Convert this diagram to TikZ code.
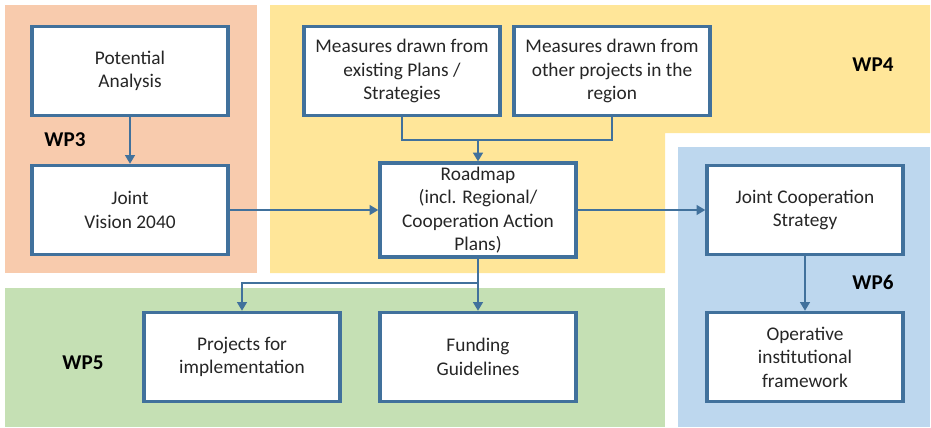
\documentclass[tikz,border=0pt]{standalone}
\usepackage{fontspec}
\setmainfont{Carlito}
\usetikzlibrary{arrows.meta}
\definecolor{edge}{HTML}{41719C}
\definecolor{wpthree}{HTML}{F8CBAD}
\definecolor{wpfour}{HTML}{FFE699}
\definecolor{wpfive}{HTML}{C5E0B4}
\definecolor{wpsix}{HTML}{BDD7EE}
\definecolor{ink}{HTML}{262626}
\begin{document}
\begin{tikzpicture}[x=.02cm,y=-.02cm,
	box/.style={draw=edge,line width=1.9pt,fill=white,text=ink,align=center,minimum width=3.92cm,minimum height=1.78cm,inner sep=2pt,font=\fontsize{11}{13.4}\selectfont},
	wp/.style={text=black,font=\bfseries\fontsize{12}{14}\selectfont},
	flow/.style={edge,line width=1.5pt,-{Triangle[width=5.5pt,length=5pt]}}]
	\useasboundingbox (0,0) rectangle (931,427);
	% work package areas
	\fill[wpthree] (5,5) rectangle (257,273);
	\fill[wpfour] (270,5) -| (930,133) -| (665,273) -- (270,273) -- cycle;
	\fill[wpfive] (5,288) rectangle (665,427);
	\fill[wpsix] (678,147) rectangle (930,427);
	\node[wp] at (65,140) {WP3};
	\node[wp] at (873,65) {WP4};
	\node[wp] at (83,363) {WP5};
	\node[wp] at (873,282) {WP6};
	% boxes
	\node[box] (pot) at (130,71) {Potential\\Analysis};
	\node[box] (vis) at (130,210) {Joint\\Vision 2040};
	\node[box] (msrplan) at (402,71) {Measures drawn from\\existing Plans /\\Strategies};
	\node[box] (msrproj) at (612,71) {Measures drawn from\\other projects in the\\region};
	\node[box] (road) at (478,210) {Roadmap\\(incl. Regional/\\Cooperation Action\\Plans)};
	\node[box] (jcs) at (805,210) {Joint Cooperation\\Strategy};
	\node[box] (proj) at (242,357) {Projects for\\implementation};
	\node[box] (fund) at (478,357) {Funding\\Guidelines};
	\node[box] (oif) at (805,357) {Operative\\institutional\\framework};
	\path (478,140) coordinate (merge) (478,283) coordinate (split);
	% connectors
	\draw[flow] (pot) -- (vis);
	\draw[flow] (vis) -- (road);
	\draw[flow] (road) -- (jcs);
	\draw[flow] (jcs) -- (oif);
	\draw[edge,line width=1.5pt] (msrplan.south) |- (merge) -| (msrproj.south);
	\draw[flow] (merge) -- (road);
	\draw[edge,line width=1.5pt] (road) -- (split);
	\draw[flow] (split) -| (proj.north);
	\draw[flow] (split) -- (fund);
\end{tikzpicture}
\end{document}
